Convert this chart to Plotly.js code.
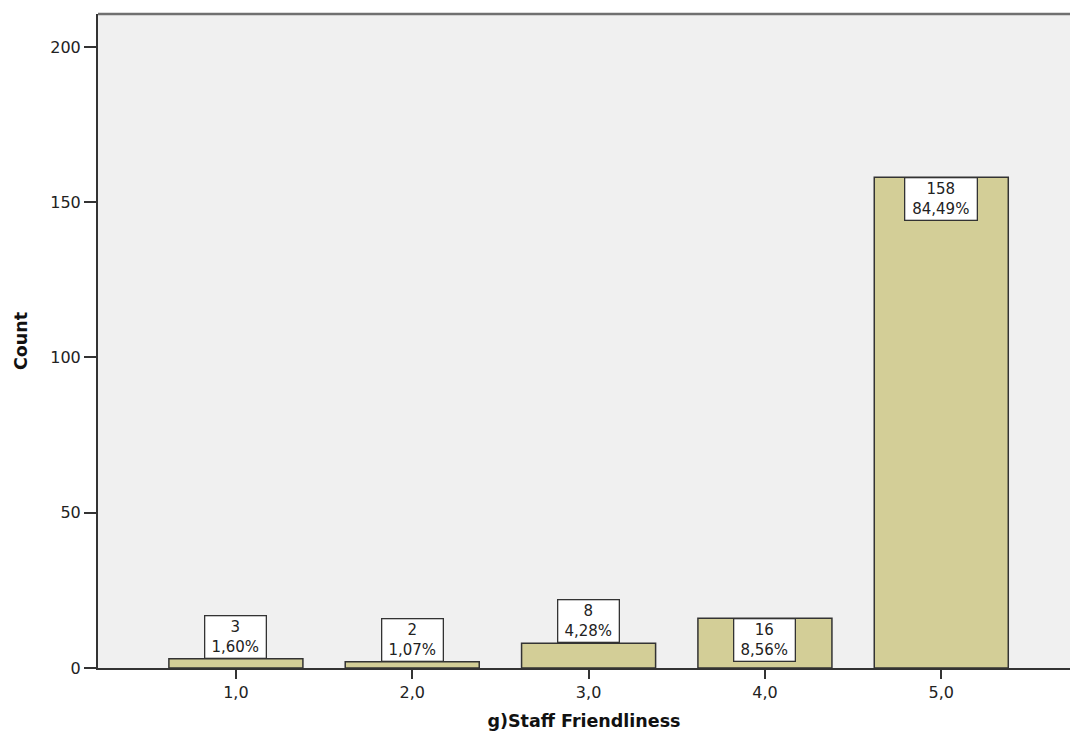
<!DOCTYPE html>
<html>
<head>
<meta charset="utf-8">
<script src="https://cdn.plot.ly/plotly-3.0.1.min.js"></script>
<style>html,body{margin:0;padding:0;background:#fff;}#chart{width:1070px;height:740px;}</style>
</head>
<body>
<div id="chart"></div>
<script>
// Data
const categories = [1, 2, 3, 4, 5];
const tickLabels = ["1,0", "2,0", "3,0", "4,0", "5,0"];
const counts = [3, 2, 8, 16, 158];
const percents = ["1,60%", "1,07%", "4,28%", "8,56%", "84,49%"];
const yTicks = [0, 50, 100, 150, 200];

const yMax = 210.6;
const plotTop = 14, plotBottom = 72;
const plotH = 740 - plotTop - plotBottom;
const pxPerUnit = plotH / yMax;
const boxH = 41;

const annotations = categories.map((c, i) => {
  const v = counts[i];
  const inside = v * pxPerUnit > boxH + 2;
  const w = 11 * percents[i].length + 5;
  return {
    x: c, y: v, xref: 'x', yref: 'y',
    text: String(v) + '<br>' + percents[i],
    showarrow: false,
    width: w, height: boxH, valign: 'middle', align: 'center',
    bgcolor: '#ffffff', bordercolor: '#333333',
    borderwidth: 1.3, borderpad: 0,
    yanchor: inside ? 'top' : 'bottom', xanchor: 'center',
    font: {family: 'DejaVu Sans, sans-serif', size: 15, color: '#222'}
  };
});

const trace = {
  type: 'bar',
  x: categories,
  y: counts,
  width: 0.76,
  marker: {color: '#d3ce97', line: {color: '#333333', width: 1.5}},
  hoverinfo: 'none'
};

const layout = {
  width: 1070, height: 740,
  margin: {l: 98, r: 0, t: plotTop, b: plotBottom, pad: 0},
  paper_bgcolor: '#ffffff',
  plot_bgcolor: '#f0f0f0',
  showlegend: false,
  font: {family: 'DejaVu Sans, sans-serif', size: 16, color: '#222'},
  xaxis: {
    range: [0.218, 5.73],
    tickmode: 'array', tickvals: categories, ticktext: tickLabels,
    ticks: 'outside', ticklen: 9, tickwidth: 2, tickcolor: '#333',
    showgrid: false, zeroline: false,
    showline: true, linecolor: '#333', linewidth: 2,
    tickfont: {family: 'DejaVu Sans, sans-serif', size: 16, color: '#222'},
    title: {text: 'g)Staff Friendliness', standoff: 14,
      font: {family: 'DejaVu Sans, sans-serif', size: 17.5, color: '#111', weight: 'bold'}}
  },
  yaxis: {
    range: [0, yMax],
    tickmode: 'array', tickvals: yTicks, ticktext: yTicks.map(String),
    ticks: 'outside', ticklen: 12, tickwidth: 2, tickcolor: '#333',
    showgrid: false, zeroline: false,
    showline: true, linecolor: '#333', linewidth: 2,
    tickfont: {family: 'DejaVu Sans, sans-serif', size: 16, color: '#222'},
    title: {text: 'Count', standoff: 18,
      font: {family: 'DejaVu Sans, sans-serif', size: 17.5, color: '#111', weight: 'bold'}}
  },
  shapes: [{
    type: 'line', xref: 'paper', yref: 'paper', x0: 0, x1: 1, y0: 1, y1: 1,
    line: {color: '#707070', width: 2.5}
  }],
  annotations: annotations
};

Plotly.newPlot('chart', [trace], layout, {displayModeBar: false, staticPlot: true});
</script>
</body>
</html>
